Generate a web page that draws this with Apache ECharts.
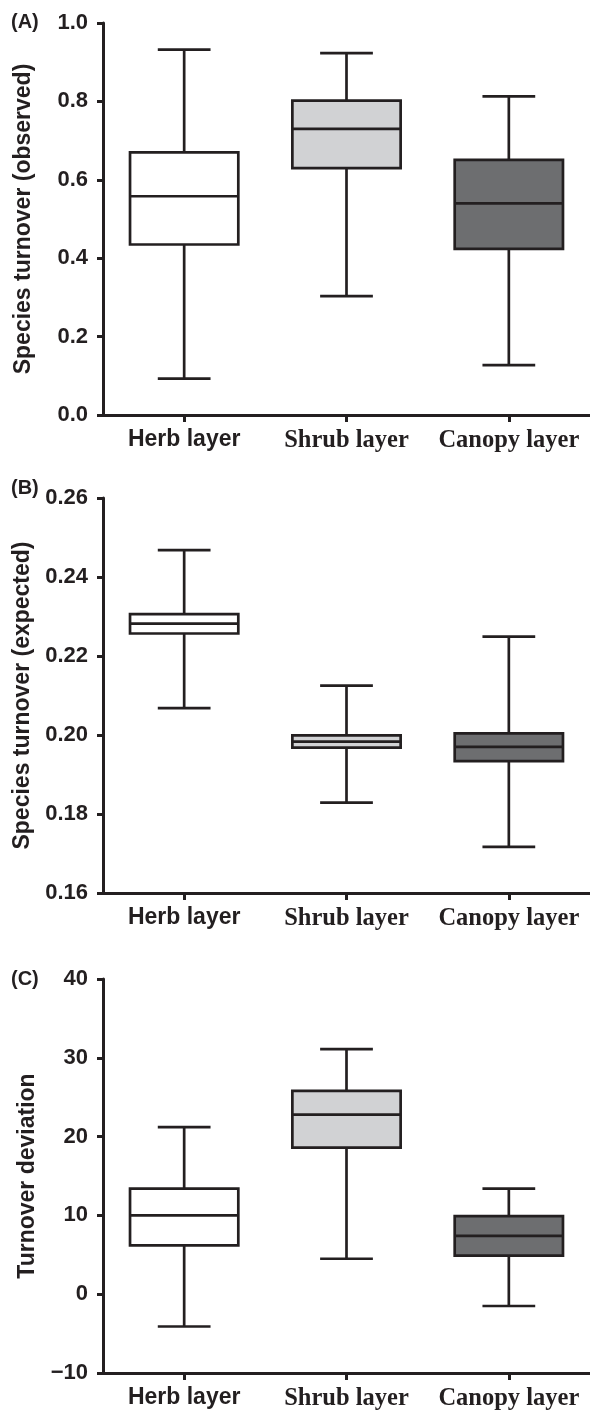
<!DOCTYPE html>
<html>
<head>
<meta charset="utf-8">
<script src="https://cdn.jsdelivr.net/npm/echarts@6/dist/echarts.min.js"></script>
<style>
html,body{margin:0;padding:0;background:#fff;}
#chart{width:590px;height:1413px;}
</style>
</head>
<body>
<div id="chart"></div>
<script>
// Categories
const categories = ['Herb layer', 'Shrub layer', 'Canopy layer'];
// Box stats per category: [min, Q1, median, Q3, max]
const observed = [
  [0.093, 0.435, 0.558, 0.670, 0.932],
  [0.303, 0.630, 0.730, 0.802, 0.923],
  [0.127, 0.424, 0.540, 0.651, 0.813]
];
const expected = [
  [0.2068, 0.2257, 0.2282, 0.2306, 0.2468],
  [0.1829, 0.1968, 0.1983, 0.1999, 0.2125],
  [0.1717, 0.1934, 0.1970, 0.2004, 0.2249]
];
const deviation = [
  [-4.1, 6.2, 10.0, 13.4, 21.2],
  [4.5, 18.6, 22.8, 25.8, 31.1],
  [-1.5, 4.9, 7.4, 9.9, 13.4]
];
// Axis ranges
const axisA = {min: 0, max: 1.0, interval: 0.2, dec: 1};
const axisB = {min: 0.16, max: 0.26, interval: 0.02, dec: 2};
const axisC = {min: -10, max: 40, interval: 10, dec: 0};
const yTitles = ['Species turnover (observed)', 'Species turnover (expected)', 'Turnover deviation'];
const panelLabels = ['(A)', '(B)', '(C)'];

const fills = ['#ffffff', '#d1d2d4', '#6d6e70'];
const ink = '#231f20';

const grids = [
  {left: 103, right: 0, top: 23, height: 392},
  {left: 103, right: 0, top: 498, height: 395},
  {left: 103, right: 0, top: 979, height: 394}
];
const nameGaps = [68, 68, 64];
const titleTops = [12, 478, 969];

function yAxisCfg(ax, i) {
  return {
    type: 'value', gridIndex: i, min: ax.min, max: ax.max, interval: ax.interval,
    name: yTitles[i], nameLocation: 'middle', nameGap: nameGaps[i],
    nameTextStyle: {fontFamily: 'Liberation Sans, Arial, sans-serif', fontWeight: 'bold', fontSize: 23, color: ink},
    axisLine: {show: true, lineStyle: {color: ink, width: 3}},
    axisTick: {show: true, length: 6, lineStyle: {color: ink, width: 3}},
    splitLine: {show: false},
    axisLabel: {
      margin: 15, fontFamily: 'Liberation Sans, Arial, sans-serif', fontWeight: 'bold', fontSize: 22, color: ink,
      formatter: v => v.toFixed(ax.dec).replace('-', '\u2212')
    }
  };
}
function xAxisCfg(i) {
  return {
    type: 'category', gridIndex: i, data: categories,
    axisLine: {show: true, onZero: false, lineStyle: {color: ink, width: 3}},
    axisTick: {show: true, alignWithLabel: true, length: 7, lineStyle: {color: ink, width: 3}},
    axisLabel: {
      margin: 13, color: ink, interval: 0,
      formatter: (v, idx) => idx === 0 ? '{sans|' + v + '}' : '{serif|' + v + '}',
      rich: {
        sans: {fontFamily: 'Liberation Sans, Arial, sans-serif', fontWeight: 'bold', fontSize: 23, color: ink},
        serif: {fontFamily: 'Liberation Serif, Times New Roman, serif', fontWeight: 'bold', fontSize: 24.5, color: ink}
      }
    }
  };
}

function renderBox(params, api) {
  const idx = api.value(0);
  const pMin = api.coord([idx, api.value(1)]);
  const pQ1 = api.coord([idx, api.value(2)]);
  const pMed = api.coord([idx, api.value(3)]);
  const pQ3 = api.coord([idx, api.value(4)]);
  const pMax = api.coord([idx, api.value(5)]);
  const band = api.size([1, 0])[0];
  const bw = band * 0.667, cw = band * 0.325;
  const cx = pMed[0];
  const ls = {stroke: ink, lineWidth: 2.7};
  return {
    type: 'group',
    children: [
      {type: 'line', shape: {x1: cx, y1: pMax[1], x2: cx, y2: pQ3[1]}, style: ls},
      {type: 'line', shape: {x1: cx, y1: pQ1[1], x2: cx, y2: pMin[1]}, style: ls},
      {type: 'line', shape: {x1: cx - cw / 2, y1: pMax[1], x2: cx + cw / 2, y2: pMax[1]}, style: ls},
      {type: 'line', shape: {x1: cx - cw / 2, y1: pMin[1], x2: cx + cw / 2, y2: pMin[1]}, style: ls},
      {type: 'rect', shape: {x: cx - bw / 2, y: pQ3[1], width: bw, height: pQ1[1] - pQ3[1]},
        style: {fill: fills[idx], stroke: ink, lineWidth: 2.7}},
      {type: 'line', shape: {x1: cx - bw / 2, y1: pMed[1], x2: cx + bw / 2, y2: pMed[1]}, style: ls}
    ]
  };
}

function seriesCfg(stats, i) {
  return {
    type: 'custom', xAxisIndex: i, yAxisIndex: i,
    renderItem: renderBox,
    encode: {x: 0, y: [1, 2, 3, 4, 5]},
    data: stats.map((s, k) => [k].concat(s)),
    silent: true
  };
}

const chart = echarts.init(document.getElementById('chart'), null, {renderer: 'canvas'});
chart.setOption({
  backgroundColor: '#fff',
  animation: false,
  title: panelLabels.map((t, i) => ({
    text: t, left: 11, top: titleTops[i], padding: 0,
    textStyle: {fontFamily: 'Liberation Sans, Arial, sans-serif', fontWeight: 'bold', fontSize: 20, color: ink}
  })),
  grid: grids,
  xAxis: [xAxisCfg(0), xAxisCfg(1), xAxisCfg(2)],
  yAxis: [yAxisCfg(axisA, 0), yAxisCfg(axisB, 1), yAxisCfg(axisC, 2)],
  series: [seriesCfg(observed, 0), seriesCfg(expected, 1), seriesCfg(deviation, 2)]
});
</script>
</body>
</html>
